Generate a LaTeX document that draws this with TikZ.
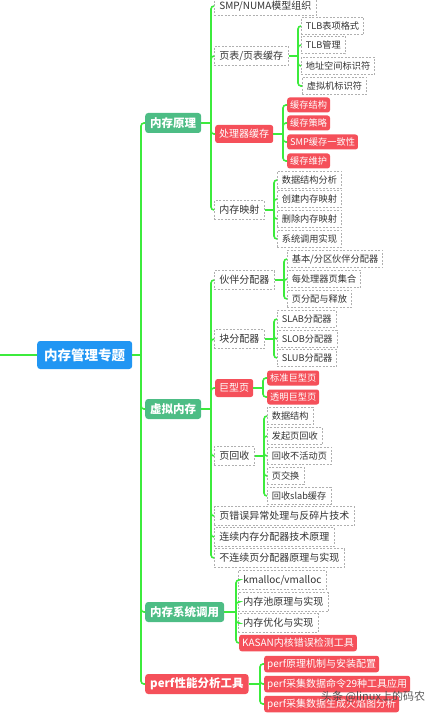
\documentclass[tikz,border=0pt]{standalone}
\usepackage{fontspec}
\setmainfont{Noto Sans CJK SC}
\definecolor{cblue}{HTML}{2196F3}
\definecolor{cgreen}{HTML}{4DBD85}
\definecolor{cred}{HTML}{F5505A}
\definecolor{cline}{HTML}{3CEB3C}
\definecolor{cdash}{HTML}{B0B0B0}
\definecolor{ctext}{HTML}{333333}
\tikzset{
  base/.style={anchor=west, inner ysep=0pt, align=left},
  rootbox/.style={base, fill=cblue, text=white, rounded corners=3pt, inner xsep=7pt, minimum height=28pt, font=\fontsize{13.5}{14}\selectfont\bfseries},
  topicg/.style={base, fill=cgreen, text=white, rounded corners=3pt, inner xsep=5pt, minimum height=20pt, font=\fontsize{11.5}{12}\selectfont\bfseries},
  topicr/.style={topicg, fill=cred},
  subg/.style={base, draw=cdash, dash pattern=on 2pt off 1.5pt, line width=0.6pt, text=ctext, inner xsep=5pt, minimum height=19pt, font=\fontsize{10}{11}\selectfont},
  subr/.style={base, fill=cred, text=white, rounded corners=2.5pt, inner xsep=4pt, minimum height=18pt, font=\fontsize{10}{11}\selectfont},
  leafg/.style={base, draw=cdash, dash pattern=on 2pt off 1.5pt, line width=0.6pt, text=ctext, inner xsep=4.5pt, minimum height=17.5pt, font=\fontsize{9.2}{10}\selectfont},
  leafr/.style={base, fill=cred, text=white, rounded corners=2.5pt, inner xsep=3pt, minimum height=15pt, font=\fontsize{9.2}{10}\selectfont},
  leafrr/.style={base, fill=cred, text=white, rounded corners=2.5pt, inner xsep=3pt, minimum height=16.5pt, font=\fontsize{10}{11}\selectfont},
  link/.style={draw=cline, line width=1.6pt, rounded corners=3pt},
}
\begin{document}
\begin{tikzpicture}[x=1pt,y=-1pt]
\useasboundingbox (0,0) rectangle (437,714);
% root
\node[rootbox] (c) at (37,355) {内存管理专题};
\coordinate (lft) at (0,355);
% level 1
\node[topicg] (a) at (145,123) {内存原理};
\node[topicg] (b) at (145,409) {虚拟内存};
\node[topicg] (d) at (145,612) {内存系统调用};
\node[topicr] (e) at (145,684) {perf性能分析工具};
% a children
\node[subg] (a1) at (214,6) {SMP/NUMA模型组织};
\node[subg] (a2) at (214,56) {页表/页表缓存};
\node[subr] (a3) at (215,134) {处理器缓存};
\node[subg] (a4) at (214,210) {内存映射};
\node[leafg] (a21) at (301,26) {TLB表项格式};
\node[leafg] (a22) at (301,45) {TLB管理};
\node[leafg] (a23) at (301,66) {地址空间标识符};
\node[leafg] (a24) at (302,86) {虚拟机标识符};
\node[leafr] (a31) at (287,105) {缓存结构};
\node[leafr] (a32) at (287,123) {缓存策略};
\node[leafr] (a33) at (287,142) {SMP缓存一致性};
\node[leafr] (a34) at (287,161) {缓存维护};
\node[leafg] (a41) at (277,180) {数据结构分析};
\node[leafg] (a42) at (277,199) {创建内存映射};
\node[leafg] (a43) at (277,219) {删除内存映射};
\node[leafg] (a44) at (277,239) {系统调用实现};
% b children
\node[subg] (b1) at (214,280) {伙伴分配器};
\node[subg] (b2) at (214,339) {块分配器};
\node[subr] (b3) at (215,388) {巨型页};
\node[subg] (b4) at (214,456) {页回收};
\node[subg] (b5) at (214,516) {页错误异常处理与反碎片技术};
\node[subg] (b6) at (214,537) {连续内存分配器技术原理};
\node[subg] (b7) at (214,558) {不连续页分配器原理与实现};
\node[leafg] (b11) at (287,259) {基本/分区伙伴分配器};
\node[leafg] (b12) at (287,279) {每处理器页集合};
\node[leafg] (b13) at (287,299) {页分配与释放};
\node[leafg] (b21) at (277,319) {SLAB分配器};
\node[leafg] (b22) at (277,339) {SLOB分配器};
\node[leafg] (b23) at (277,358) {SLUB分配器};
\node[leafr] (b31) at (267,378) {标准巨型页};
\node[leafr] (b32) at (267,397) {透明巨型页};
\node[leafg] (b41) at (267,416) {数据结构};
\node[leafg] (b42) at (267,436) {发起页回收};
\node[leafg] (b43) at (267,456) {回收不活动页};
\node[leafg] (b44) at (267,476) {页交换};
\node[leafg] (b45) at (267,496) {回收slab缓存};
% d children
\node[subg] (d1) at (238,580) {kmalloc/vmalloc};
\node[subg] (d2) at (238,602) {内存池原理与实现};
\node[subg] (d3) at (238,623) {内存优化与实现};
\node[leafrr] (d4) at (239,643) {KASAN内核错误检测工具};
% e children
\node[leafrr] (e1) at (264,664) {perf原理机制与安装配置};
\node[leafrr] (e2) at (264,684) {perf采集数据命令29种工具应用};
\node[leafrr] (e3) at (264,704) {perf采集数据生成火焰图分析};
% bar coordinates
\coordinate (cb) at (141,355);
\coordinate (ab) at (211,123);
\coordinate (a2b) at (298,56);
\coordinate (a3b) at (283,134);
\coordinate (a4b) at (274,210);
\coordinate (bb) at (211,409);
\coordinate (b1b) at (284,280);
\coordinate (b2b) at (274,339);
\coordinate (b3b) at (263,388);
\coordinate (b4b) at (264,456);
\coordinate (db) at (236,612);
\coordinate (eb) at (260,684);
% connectors
\draw[link] (lft) -- (c.west);
\draw[link] (c.east) -- (cb);
\foreach \n in {a,b,d,e} \draw[link] (cb) |- (\n.west);
\draw[link] (a.east) -- (ab);
\foreach \n in {a1,a2,a3,a4} \draw[link] (ab) |- (\n.west);
\draw[link] (a2.east) -- (a2b);
\foreach \n in {a21,a22,a23,a24} \draw[link] (a2b) |- (\n.west);
\draw[link] (a3.east) -- (a3b);
\foreach \n in {a31,a32,a33,a34} \draw[link] (a3b) |- (\n.west);
\draw[link] (a4.east) -- (a4b);
\foreach \n in {a41,a42,a43,a44} \draw[link] (a4b) |- (\n.west);
\draw[link] (b.east) -- (bb);
\foreach \n in {b1,b2,b3,b4,b5,b6,b7} \draw[link] (bb) |- (\n.west);
\draw[link] (b1.east) -- (b1b);
\foreach \n in {b11,b12,b13} \draw[link] (b1b) |- (\n.west);
\draw[link] (b2.east) -- (b2b);
\foreach \n in {b21,b22,b23} \draw[link] (b2b) |- (\n.west);
\draw[link] (b3.east) -- (b3b);
\foreach \n in {b31,b32} \draw[link] (b3b) |- (\n.west);
\draw[link] (b4.east) -- (b4b);
\foreach \n in {b41,b42,b43,b44,b45} \draw[link] (b4b) |- (\n.west);
\draw[link] (d.east) -- (db);
\foreach \n in {d1,d2,d3,d4} \draw[link] (db) |- (\n.west);
\draw[link] (e.east) -- (eb);
\foreach \n in {e1,e2,e3} \draw[link] (eb) |- (\n.west);
% watermark
\node[anchor=west, text=black!75, opacity=0.85, font=\fontsize{11}{12}\selectfont, inner sep=0pt] (wm) at (321,697) {头条 @linux上的码农};
\end{tikzpicture}
\end{document}
